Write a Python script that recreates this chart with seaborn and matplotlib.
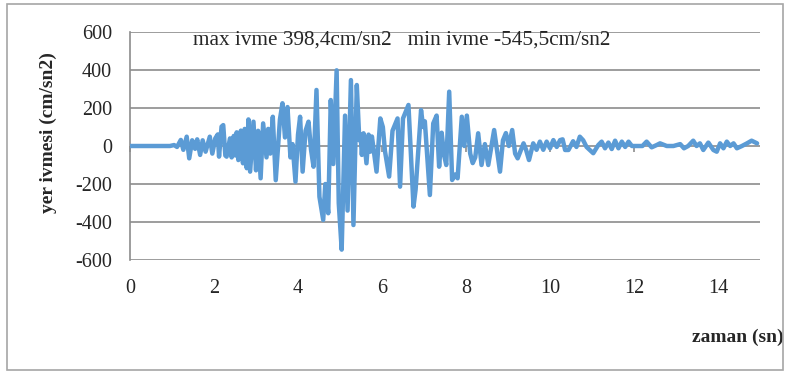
import numpy as np
import pandas as pd
import matplotlib
matplotlib.use('Agg')
import matplotlib.pyplot as plt
import seaborn as sns
from matplotlib.patches import Rectangle

# ground acceleration record, peaks
time_s = [0.0, 0.95, 1.05, 1.12, 1.21, 1.27, 1.35, 1.41, 1.48, 1.55, 1.60, 1.67, 1.73, 1.80,
          1.90, 1.96, 2.03, 2.09, 2.12, 2.18, 2.22, 2.27, 2.30, 2.38, 2.42, 2.47, 2.51, 2.54,
          2.58, 2.64, 2.69, 2.73, 2.78, 2.82, 2.86, 2.94, 3.00, 3.05, 3.11, 3.17, 3.25, 3.29,
          3.34, 3.40, 3.47, 3.57, 3.63, 3.69, 3.75, 3.82, 3.87, 3.94, 4.00, 4.05, 4.11, 4.18,
          4.25, 4.31, 4.37, 4.44, 4.51, 4.60, 4.65, 4.72, 4.78, 4.84, 4.92, 4.97, 5.04, 5.12,
          5.18, 5.26, 5.32, 5.40, 5.46, 5.49, 5.52, 5.56, 5.63, 5.68, 5.72, 5.76, 5.87, 5.96,
          6.02, 6.07, 6.17, 6.25, 6.37, 6.43, 6.50, 6.63, 6.75, 6.80, 6.93, 6.98, 7.02, 7.06,
          7.14, 7.22, 7.30, 7.36, 7.42, 7.48, 7.53, 7.60, 7.67, 7.74, 7.80, 7.90, 7.96, 8.02,
          8.10, 8.16, 8.22, 8.29, 8.37, 8.45, 8.53, 8.67, 8.81, 8.88, 8.95, 9.02, 9.10, 9.17,
          9.23, 9.37, 9.43, 9.50, 9.60, 9.68, 9.76, 9.84, 9.92, 10.00, 10.08, 10.16, 10.24,
          10.30, 10.36, 10.44, 10.55, 10.63, 10.71, 10.79, 10.87, 11.03, 11.15, 11.23, 11.31,
          11.39, 11.47, 11.55, 11.63, 11.71, 11.79, 11.87, 11.95, 12.20, 12.30, 12.42, 12.54,
          12.62, 12.78, 12.94, 13.10, 13.19, 13.29, 13.41, 13.49, 13.57, 13.65, 13.77, 13.89,
          13.97, 14.05, 14.13, 14.21, 14.29, 14.37, 14.45, 14.57, 14.69, 14.80, 14.93]
accel = [0, 0, 5, -5, 32, -20, 49, -65, 30, -15, 35, -47, 30, -30,
         49, -40, 40, 61, -56, 102, 110, -50, -56, 40, -60, 53, -50, 72,
         -74, 81, -91, 90, -117, 140, -135, 128, -128, 80, -170, 119, -60, 90,
         -40, 154, -180, 140, 225, 45, 205, -60, 10, -188, 60, 154, -135, 80,
         128, -20, -109, 295, -267, -389, -200, -354, 242, -95, 398.4, -300, -545.5, 160,
         -340, 347, -416, 321, 30, 60, -47, 67, -91, 60, -30, 50, -135, 145,
         100, -26, -161, 80, 145, -214, 145, 216, -319, -230, 189, 100, 130, 0,
         -258, 119, 160, -109, 70, -50, -100, 286, -179, -150, -170, 154, 0, 160,
         -40, -90, -60, 67, -100, 10, -100, 84, -135, 30, 68, 0, 84, -40,
         -65, 14, -20, -74, 14, -20, 23, -20, 23, -12, 31, -5, 31,
         35, -21, -21, 25, -5, 49, 30, -5, -38, 5, 23, -12,
         18, -16, 28, -12, 23, -5, 23, 0, 0, 23, -7, 5,
         14, 0, 0, 10, -12, 0, 28, 0, 14, -21, 18, -21,
         -30, 14, -12, 23, 0, 14, -12, 0, 14, 28, 14]

x_ticks = [0, 2, 4, 6, 8, 10, 12, 14]
y_ticks = [-600, -400, -200, 0, 200, 400, 600]
title_text = 'max ivme 398,4cm/sn2   min ivme -545,5cm/sn2'

df = pd.DataFrame({'zaman': time_s, 'ivme': accel})

sns.set_style('white')
plt.rcParams['font.family'] = ['Liberation Serif', 'DejaVu Serif']
plt.rcParams['axes.unicode_minus'] = False
grid_c = '#8C8C8C'

fig = plt.figure(figsize=(7.9, 3.74), dpi=100)
ax = fig.add_axes([130/790, 1 - 260/374, 630/790, 228/374])

sns.lineplot(data=df, x='zaman', y='ivme', ax=ax, color='#5B9BD5', linewidth=3.2,
             estimator=None, sort=False, zorder=3)

ax.set_xlim(0, 15)
ax.set_ylim(-600, 600)
ax.set_yticks(y_ticks)
ax.set_xticks(x_ticks)
ax.yaxis.grid(True, color=grid_c, linewidth=1.2)
ax.set_axisbelow(True)
for s in ['top', 'right', 'bottom']:
    ax.spines[s].set_visible(False)
ax.spines['left'].set_color(grid_c)
ax.spines['left'].set_linewidth(1.2)
ax.tick_params(axis='y', length=5, color=grid_c, width=1.2, pad=8, labelsize=14.5)
ax.tick_params(axis='x', length=0, pad=14, labelsize=14.5)

# horizontal axis crosses at zero, ticks only
sec = ax.secondary_xaxis(0.5)
sec.xaxis.set_ticks_position('bottom')
sec.set_xticks(x_ticks)
sec.set_xticklabels([''] * len(x_ticks))
sec.tick_params(length=4, color=grid_c, width=1.2, direction='out')
for s in sec.spines.values():
    s.set_visible(False)

ax.set_ylabel('yer ivmesi (cm/sn2)', fontsize=14, fontweight='bold')
ax.yaxis.set_label_coords(-0.116, 0.56)
ax.set_xlabel('zaman (sn)', fontsize=14, fontweight='bold')
ax.xaxis.set_label_coords(0.965, -0.30)

ax.text(0.1, 0.965, title_text, transform=ax.transAxes, fontsize=15.3,
        ha='left', va='center')

fig.patches.append(Rectangle((7/790, 4/374), 776/790, 366/374, transform=fig.transFigure,
                             fill=False, edgecolor='#A6A6A6', linewidth=1.2))

fig.savefig('out.png', dpi=100)
